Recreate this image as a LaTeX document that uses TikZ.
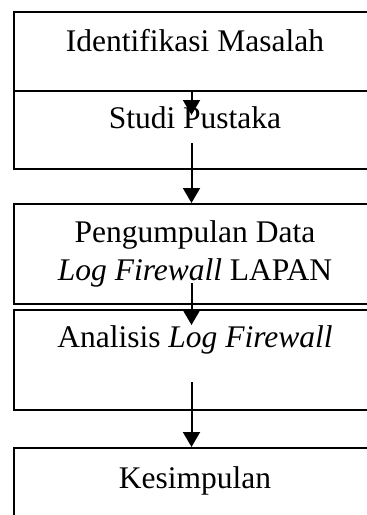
\documentclass[tikz,border=0pt]{standalone}
\usepackage{fontspec}
\setmainfont{Liberation Serif}
\usetikzlibrary{arrows.meta}
\begin{document}
\begin{tikzpicture}[x=1pt,y=-1pt,
  box/.style={draw, line width=2pt, anchor=north west, minimum width=366pt, inner sep=0pt},
  lbl/.style={anchor=base, inner sep=0pt, font=\fontsize{31.5}{37}\selectfont},
  flow/.style={line width=2pt, -{Triangle[width=17pt,length=15pt]}}]
\useasboundingbox (0,0) rectangle (367,515);
\clip (0,0) rectangle (367,515);

% process boxes (they run past the right and bottom edges of the page)
\node[box, minimum height=79pt]  (b1) at (13,11)  {};
\node[box, minimum height=78pt]  (b2) at (13,90)  {};
\node[box, minimum height=100pt] (b3) at (13,203) {};
\node[box, minimum height=100pt] (b4) at (13,309) {};
\node[box, minimum height=93pt]  (b5) at (13,447) {};

% box captions
\node[lbl] (t1)  at (195,51.5)  {Identifikasi Masalah};
\node[lbl] (t2)  at (195,128) {Studi Pustaka};
\node[lbl] (t3a) at (195,242) {Pengumpulan Data};
\node[lbl] (t3b) at (195,280) {\textit{Log Firewall} LAPAN};
\node[lbl] (t4)  at (195,347) {Analisis \textit{Log Firewall}};
\node[lbl] (t5)  at (195,488) {Kesimpulan};

% arrow end points
\coordinate (s1) at (191.5,90);  \coordinate (e1) at (191.5,115);
\coordinate (s2) at (191.5,143); \coordinate (e2) at (191.5,203);
\coordinate (s3) at (191.5,283); \coordinate (e3) at (191.5,325);
\coordinate (s4) at (191.5,382); \coordinate (e4) at (191.5,447);

\draw[flow] (s1) -- (e1);
\draw[flow] (s2) -- (e2);
\draw[flow] (s3) -- (e3);
\draw[flow] (s4) -- (e4);
\end{tikzpicture}
\end{document}
